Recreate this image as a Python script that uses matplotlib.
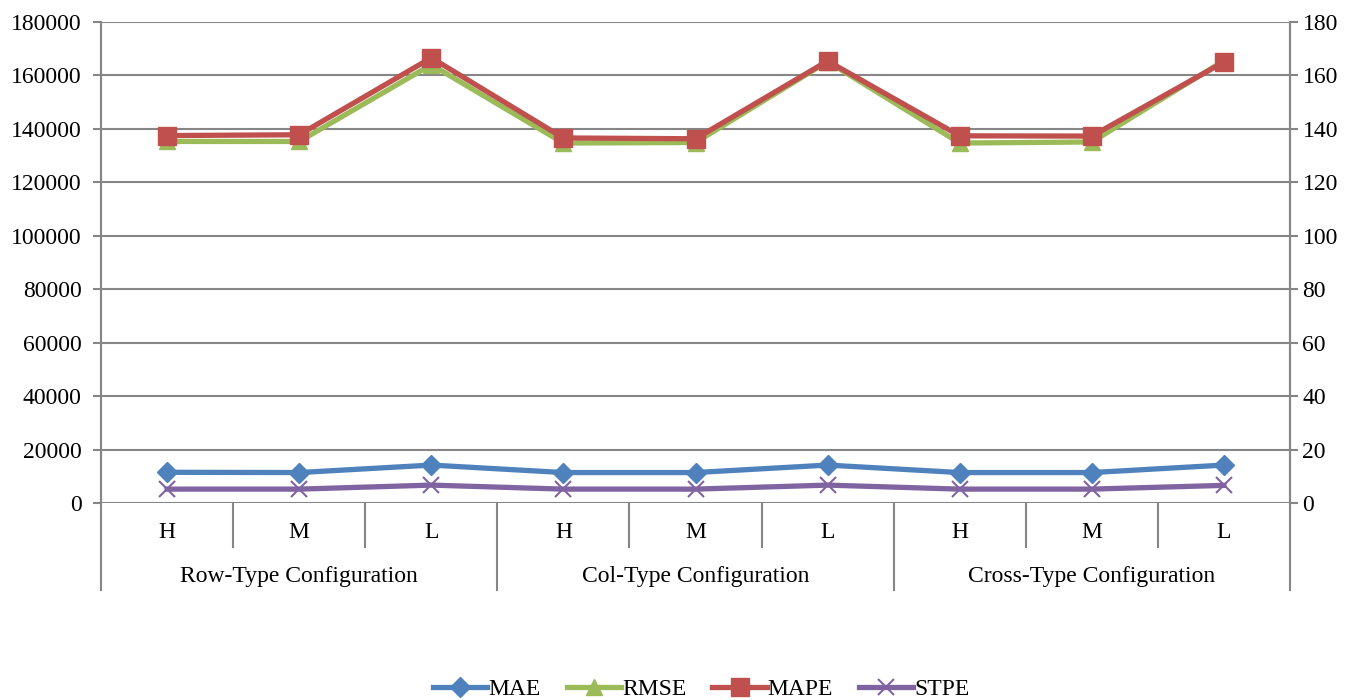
import numpy as np
import matplotlib.pyplot as plt
from matplotlib.lines import Line2D

plt.rcParams['font.family'] = ['Liberation Serif', 'DejaVu Serif']

levels = ['H', 'M', 'L'] * 3
groups = ['Row-Type Configuration', 'Col-Type Configuration', 'Cross-Type Configuration']

# left axis series
mae = [11500, 11400, 14200, 11400, 11400, 14200, 11400, 11400, 14200]
rmse = [135300, 135300, 164000, 134700, 134900, 165200, 134700, 135100, 165500]
# right axis series
mape = [137.5, 137.8, 166.6, 136.6, 136.3, 165.4, 137.4, 137.3, 165.0]
stpe = [5.2, 5.2, 6.7, 5.2, 5.2, 6.7, 5.2, 5.2, 6.6]

blue = '#4F81BD'
green = '#9BBB59'
red = '#C0504D'
purple = '#8064A2'
grey = '#868686'
fs = 17

x = np.arange(len(levels))

fig = plt.figure(figsize=(13.62, 7), dpi=100)
ax = fig.add_axes([0.0742, 0.2814, 0.8729, 0.6872])
ax2 = ax.twinx()

lw = 3.8
ax.plot(x, rmse, color=green, lw=lw, marker='^', ms=12, solid_joinstyle='round', zorder=3)
ax.plot(x, mae, color=blue, lw=lw, marker='D', ms=10.5, solid_joinstyle='round', zorder=3)
ax2.plot(x, mape, color=red, lw=lw, marker='s', ms=13, solid_joinstyle='round', zorder=3)
ax2.plot(x, stpe, color=purple, lw=lw, marker='x', ms=12, mew=1.5, solid_joinstyle='round', zorder=3)

ax.set_xlim(-0.5, len(levels) - 0.5)
ax.set_ylim(0, 180000)
ax2.set_ylim(0, 180)
ax.set_yticks(np.arange(0, 180001, 20000))
ax2.set_yticks(np.arange(0, 181, 20))
ax.yaxis.grid(True, color=grey, lw=1.5)
ax.set_axisbelow(True)

for a in (ax, ax2):
    for s in a.spines.values():
        s.set_color(grey)
        s.set_linewidth(1.5)
    a.spines['top'].set_visible(False)
    a.spines['bottom'].set_visible(False)
    a.tick_params(axis='y', colors='black', labelsize=fs, length=6, width=1.5, color=grey)
ax.tick_params(axis='y', pad=8)
ax2.tick_params(axis='y', pad=3)
ax.set_xticks([])

# category axis below the zero line
tr = ax.get_xaxis_transform()
for i, lab in enumerate(levels):
    ax.text(i, -0.062, lab, transform=tr, ha='center', va='center', fontsize=fs)
for b in range(len(levels) + 1):
    pos = b - 0.5
    low = -0.181 if b % 3 == 0 else -0.0915
    ax.plot([pos, pos], [0, low], transform=tr, color=grey, lw=1.5, clip_on=False)
for g, name in enumerate(groups):
    ax.text(3 * g + 1, -0.152, name, transform=tr, ha='center', va='center', fontsize=fs)

handles = [
    Line2D([], [], color=blue, lw=lw, marker='D', ms=10.5),
    Line2D([], [], color=green, lw=lw, marker='^', ms=12),
    Line2D([], [], color=red, lw=lw, marker='s', ms=13),
    Line2D([], [], color=purple, lw=lw, marker='x', ms=12, mew=1.5),
]
fig.legend(handles, ['MAE', 'RMSE', 'MAPE', 'STPE'], loc='center', bbox_to_anchor=(0.515, 0.015),
           ncol=4, frameon=False, fontsize=fs, handlelength=2.3, handletextpad=0.05,
           columnspacing=1.1)

plt.savefig('out.png', dpi=100)
